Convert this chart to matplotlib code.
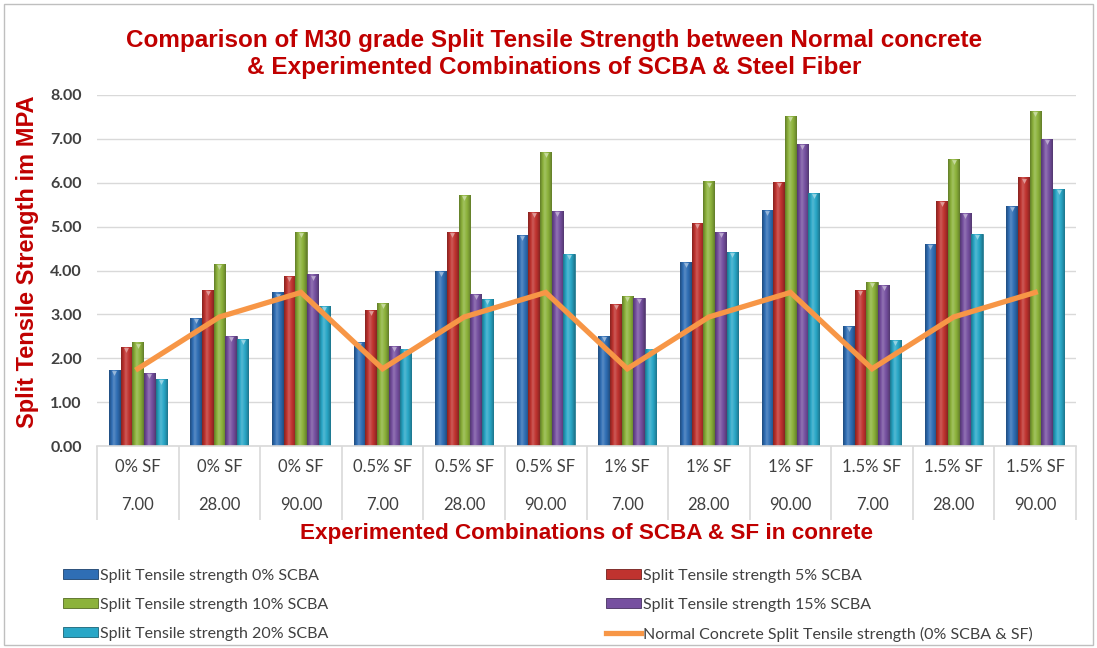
import numpy as np
import matplotlib
matplotlib.use("Agg")
import matplotlib.pyplot as plt
from matplotlib.colors import to_rgb
from matplotlib.patches import Rectangle, Patch
from matplotlib.lines import Line2D

sf_labels = ["0% SF", "0% SF", "0% SF", "0.5% SF", "0.5% SF", "0.5% SF",
             "1% SF", "1% SF", "1% SF", "1.5% SF", "1.5% SF", "1.5% SF"]
days = ["7.00", "28.00", "90.00"] * 4

scba_0 = [1.73, 2.92, 3.50, 2.38, 3.99, 4.80, 2.51, 4.20, 5.38, 2.74, 4.60, 5.47]
scba_5 = [2.26, 3.55, 3.88, 3.10, 4.87, 5.34, 3.23, 5.09, 6.01, 3.55, 5.58, 6.12]
scba_10 = [2.36, 4.15, 4.87, 3.26, 5.72, 6.70, 3.41, 6.03, 7.52, 3.73, 6.54, 7.64]
scba_15 = [1.66, 2.51, 3.91, 2.29, 3.46, 5.36, 3.37, 4.87, 6.89, 3.67, 5.31, 6.99]
scba_20 = [1.53, 2.45, 3.19, 2.20, 3.36, 4.38, 2.20, 4.42, 5.76, 2.41, 4.84, 5.85]
normal = [1.76, 2.94, 3.50] * 4

series = [
    ("Split Tensile strength 0% SCBA", scba_0, "#2F6EB5"),
    ("Split Tensile strength 5% SCBA", scba_5, "#C0332F"),
    ("Split Tensile strength 10% SCBA", scba_10, "#8CB23B"),
    ("Split Tensile strength 15% SCBA", scba_15, "#7650A0"),
    ("Split Tensile strength 20% SCBA", scba_20, "#29A7C7"),
]
line_label = "Normal Concrete Split Tensile strength (0% SCBA & SF)"

RED = "#C00000"
GREY = "#404040"
SMALL = ["Lato", "DejaVu Sans"]


def shade(color, f):
    c = np.array(to_rgb(color))
    if f < 1:
        return tuple(c * f)
    return tuple(c + (1 - c) * (f - 1))


def gradient_bar(ax, patch, color):
    # cylinder-like shading: darker edges, light stripe left of centre
    stops = np.array([0.7, 0.95, 1.2, 1.05, 0.9, 0.7])
    pos = np.linspace(0, 1, len(stops))
    xs = np.linspace(0, 1, 40)
    fac = np.interp(xs, pos, stops)
    img = np.array([[shade(color, f) for f in fac]])
    x0, y0 = patch.get_x(), patch.get_y()
    w, h = patch.get_width(), patch.get_height()
    im = ax.imshow(img, extent=(x0, x0 + w, y0, y0 + h), aspect="auto",
                   interpolation="bilinear", zorder=patch.get_zorder() + 0.1)
    im.set_clip_path(patch)


def main():
    fig = plt.figure(figsize=(10.97, 6.48), dpi=100)
    ax = fig.add_axes([97 / 1097, 1 - 446 / 648, 979 / 1097, 351 / 648])

    n = len(sf_labels)
    x = np.arange(n)
    bw = 0.143
    for i, (name, vals, col) in enumerate(series):
        bars = ax.bar(x + (i - 2) * bw, vals, width=bw * 0.96, color=col,
                      edgecolor=shade(col, 0.65), linewidth=0.5, zorder=2)
        for p in bars:
            gradient_bar(ax, p, col)
        ax.scatter(x + (i - 2) * bw, np.array(vals) - 0.07, marker="v", s=12,
                   color=shade(col, 1.5), linewidths=0, zorder=3)

    ax.plot(x, normal, color="#F79646", lw=3.8, zorder=4,
            solid_joinstyle="miter")

    ax.set_xlim(-0.5, n - 0.5)
    ax.set_ylim(0, 8)
    ax.set_yticks(np.arange(0, 8.01, 1))
    ax.set_yticklabels([f"{v:.2f}" for v in np.arange(0, 8.01, 1)],
                       fontweight="bold", fontsize=11.5, color=GREY,
                       family=SMALL)
    ax.tick_params(axis="y", length=0, pad=11)
    ax.grid(axis="y", color="#D9D9D9", lw=1, zorder=0)
    ax.set_axisbelow(True)
    for s in ["left", "right", "top"]:
        ax.spines[s].set_visible(False)
    ax.spines["bottom"].set_color("#D9D9D9")
    ax.spines["bottom"].set_linewidth(1.2)

    # category table under the axis
    ax.set_xticks(x)
    ax.set_xticklabels([])
    ax.tick_params(axis="x", which="major", length=0)
    ax.set_xticks(np.arange(-0.5, n, 1), minor=True)
    ax.tick_params(axis="x", which="minor", length=53, width=1.2,
                   color="#D9D9D9")
    tr = ax.get_xaxis_transform()
    for i in range(n):
        ax.text(i, -0.060, sf_labels[i], transform=tr, ha="center",
                va="center", fontsize=12, color=GREY, family=SMALL)
        ax.text(i, -0.168, days[i], transform=tr, ha="center",
                va="center", fontsize=12, color=GREY, family=SMALL)

    fig.text(0.505, 1 - 54 / 648,
             "Comparison of M30 grade Split Tensile Strength between Normal concrete\n"
             "& Experimented Combinations of SCBA & Steel Fiber",
             ha="center", va="center", color=RED, fontsize=17.5,
             fontweight="bold", family="Liberation Sans", linespacing=1.25)
    fig.text(28 / 1097, 1 - 262 / 648, "Split Tensile Strength im MPA",
             rotation=90, ha="center", va="center", color=RED, fontsize=17,
             fontweight="bold", family="Liberation Sans")
    fig.text(587 / 1097, 1 - 534 / 648,
             "Experimented Combinations of SCBA & SF in conrete",
             ha="center", va="center", color=RED, fontsize=16.2,
             fontweight="bold", family="Liberation Sans")

    def bar_handle(col):
        return Patch(facecolor=col, edgecolor=shade(col, 0.6), lw=0.6)

    left = [series[0], series[2], series[4]]
    right = [series[1], series[3]]
    leg_kw = dict(frameon=False, loc="upper left", borderpad=0,
                  borderaxespad=0, handlelength=2.2, handleheight=0.6,
                  handletextpad=0.1, labelspacing=0.93,
                  prop={"family": SMALL, "size": 11.5}, labelcolor=GREY)
    fig.legend([bar_handle(c) for _, _, c in left], [s for s, _, _ in left],
               bbox_to_anchor=(63 / 1097, 1 - 569 / 648), **leg_kw)
    rh = [bar_handle(c) for _, _, c in right] + \
        [Line2D([0], [0], color="#F79646", lw=3.8)]
    rl = [s for s, _, _ in right] + [line_label]
    fig.legend(rh, rl, bbox_to_anchor=(606 / 1097, 1 - 569 / 648), **leg_kw)

    fig.patches.append(Rectangle((4 / 1097, 3 / 648), 1089 / 1097, 641 / 648,
                                 transform=fig.transFigure, fill=False,
                                 edgecolor="#BFBFBF", lw=1))

    fig.savefig("out.png", dpi=100)


if __name__ == '__main__':
    main()
